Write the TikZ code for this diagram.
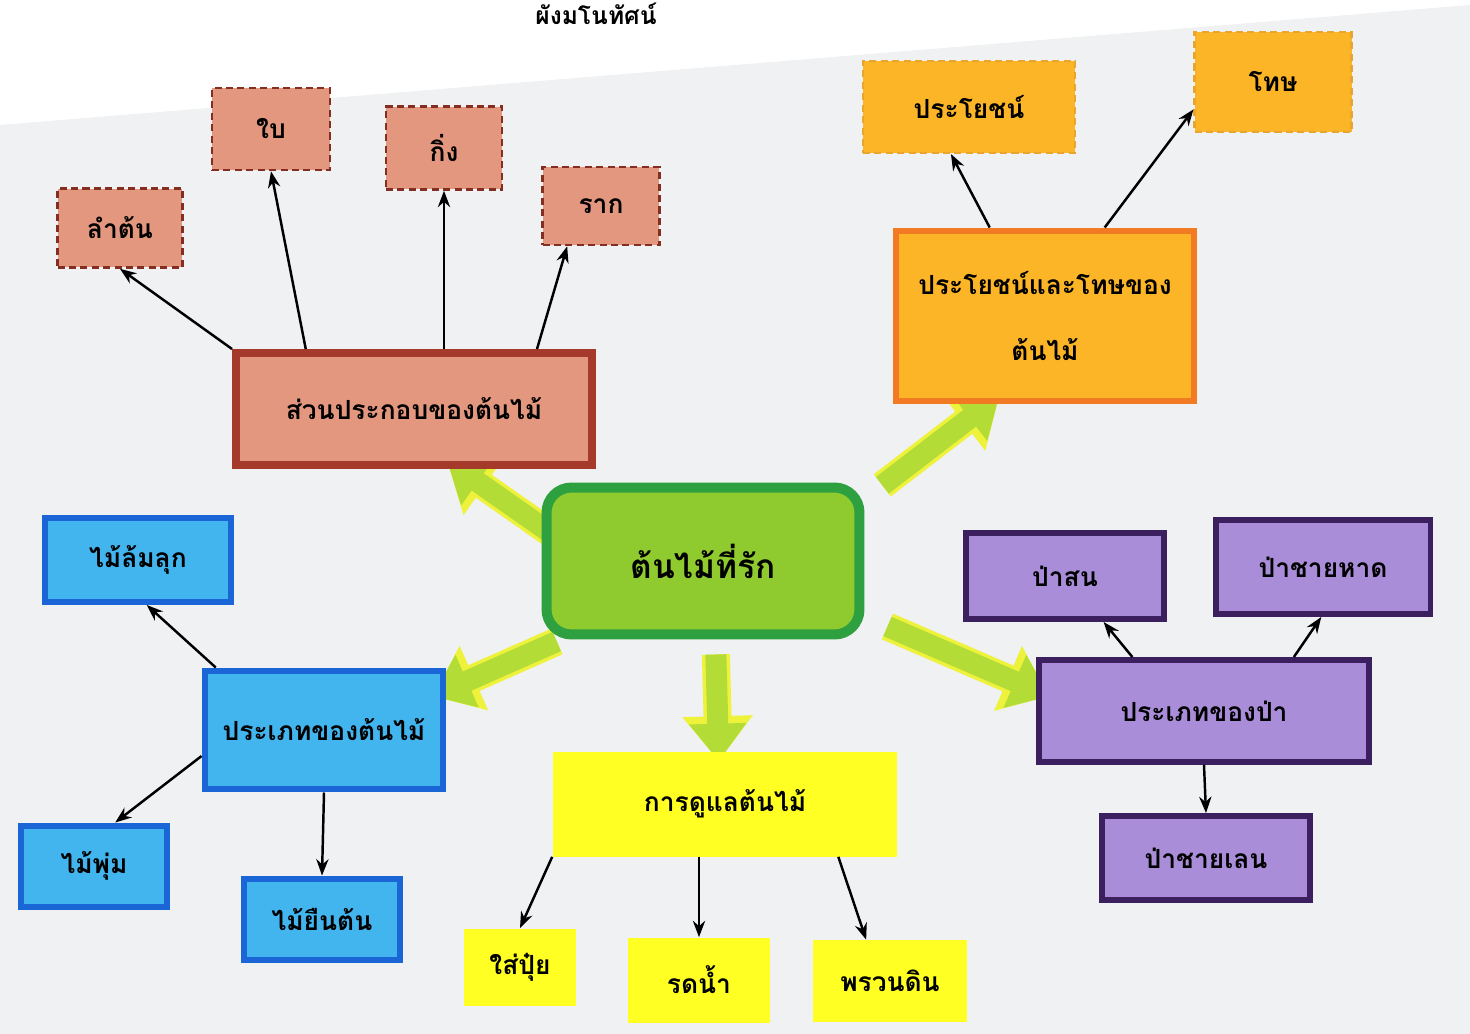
\documentclass[tikz,border=0pt]{standalone}
\usepackage{fontspec}
\newfontfamily\thaifont[Script=Thai]{Loma}
\usetikzlibrary{arrows.meta,positioning,backgrounds}

\definecolor{salmon}{HTML}{E3977F}
\definecolor{brick}{HTML}{A5392A}
\definecolor{amber}{HTML}{FBB526}
\definecolor{tangerine}{HTML}{F27A22}
\definecolor{lime}{HTML}{8FCB2E}
\definecolor{leafgreen}{HTML}{2EA03F}
\definecolor{sky}{HTML}{42B4EE}
\definecolor{royal}{HTML}{1A66D6}
\definecolor{lemon}{HTML}{FFFF24}
\definecolor{lilac}{HTML}{A98DD8}
\definecolor{plum}{HTML}{3B1F5E}
\definecolor{arrowlime}{HTML}{B4DC36}
\definecolor{arrowyellow}{HTML}{EEF23A}
\definecolor{paper}{HTML}{EFF1F2}

\begin{document}
\begin{tikzpicture}[
    x=0.02cm, y=-0.02cm,
    >=Stealth,
    every node/.style={font=\thaifont\bfseries\fontsize{15}{18}\selectfont, inner sep=0pt, align=center},
    partbox/.style={rectangle, draw=brick!80!black, dash pattern=on 4pt off 2.5pt, line width=1.5pt, fill=salmon},
    mainpart/.style={rectangle, draw=brick, line width=0.16cm, fill=salmon},
    usebox/.style={rectangle, draw=amber!70!brown, dash pattern=on 4pt off 2.5pt, line width=1.2pt, fill=amber},
    mainuse/.style={rectangle, draw=tangerine, line width=0.12cm, fill=amber},
    hubbox/.style={rectangle, rounded corners=0.5cm, draw=leafgreen, line width=0.2cm, fill=lime},
    bluebox/.style={rectangle, draw=royal, line width=0.12cm, fill=sky},
    carebox/.style={rectangle, fill=lemon},
    forestbox/.style={rectangle, draw=plum, line width=0.12cm, fill=lilac},
    link/.style={->, line width=1.4pt},
    bigarrow/.style={line width=0.42cm, arrowlime, -{Triangle[length=0.75cm,width=1.1cm]},
      preaction={draw=arrowyellow, line width=0.56cm, -{Triangle[length=0.9cm,width=1.35cm]}}}
  ]
    \useasboundingbox (0,0) rectangle (1470,1034);

    % title (top of the page)
    \node[font=\thaifont\bfseries\fontsize{14}{16}\selectfont] (title) at (596,14) {ผังมโนทัศน์};

    % centre
    \node[hubbox, minimum width=6.26cm, minimum height=2.94cm,
      font=\thaifont\bfseries\fontsize{19}{22}\selectfont] (hub) at (703,561) {ต้นไม้ที่รัก};

    % parts of a tree
    \node[mainpart, minimum width=7.12cm, minimum height=2.24cm] (parts) at (414,409) {ส่วนประกอบของต้นไม้};
    \node[partbox, minimum width=2.5cm, minimum height=1.58cm] (trunk) at (120,228) {ลำต้น};
    \node[partbox, minimum width=2.36cm, minimum height=1.64cm] (leaf) at (271,129) {ใบ};
    \node[partbox, minimum width=2.32cm, minimum height=1.66cm] (branch) at (444,148) {กิ่ง};
    \node[partbox, minimum width=2.34cm, minimum height=1.56cm] (root) at (601,206) {ราก};

    % good and bad
    \node[mainuse, minimum width=5.98cm, minimum height=3.42cm] (pros) at (1045,316) {ประโยชน์และโทษของ\\[20pt]ต้นไม้};
    \node[usebox, minimum width=4.24cm, minimum height=1.84cm] (good) at (969,107) {ประโยชน์};
    \node[usebox, minimum width=3.14cm, minimum height=2cm] (bad) at (1273,82) {โทษ};

    % kinds of trees
    \node[bluebox, minimum width=4.78cm, minimum height=2.38cm] (kinds) at (324,730) {ประเภทของต้นไม้};
    \node[bluebox, minimum width=3.74cm, minimum height=1.68cm] (herb) at (138,560) {ไม้ล้มลุก};
    \node[bluebox, minimum width=2.92cm, minimum height=1.62cm] (shrub) at (94,866) {ไม้พุ่ม};
    \node[bluebox, minimum width=3.12cm, minimum height=1.62cm] (tree) at (322,919) {ไม้ยืนต้น};

    % care
    \node[carebox, minimum width=6.9cm, minimum height=2.1cm] (care) at (725,804) {การดูแลต้นไม้};
    \node[carebox, minimum width=2.26cm, minimum height=1.54cm] (fert) at (520,967) {ใส่ปุ๋ย};
    \node[carebox, minimum width=2.84cm, minimum height=1.7cm] (water) at (699,980) {รดน้ำ};
    \node[carebox, minimum width=3.1cm, minimum height=1.64cm] (till) at (890,981) {พรวนดิน};

    % kinds of forest
    \node[forestbox, minimum width=6.62cm, minimum height=2.04cm] (forest) at (1204,711) {ประเภทของป่า};
    \node[forestbox, minimum width=3.98cm, minimum height=1.72cm] (pine) at (1065,576) {ป่าสน};
    \node[forestbox, minimum width=4.3cm, minimum height=1.88cm] (beach) at (1323,567) {ป่าชายหาด};
    \node[forestbox, minimum width=4.16cm, minimum height=1.68cm] (mangrove) at (1206,858) {ป่าชายเลน};

    % thin arrows
    \draw[link] (parts.north west) -- (trunk.south);
    \draw[link] (parts.151) -- (leaf.south);
    \draw[link] (parts.north -| branch.south) -- (branch.south);
    \draw[link] (parts.26) -- (root.230);
    \draw[link] (pros.122) -- (good.249);
    \draw[link] (pros.56) -- (bad.199);
    \draw[link] (kinds.150) -- (herb.-79);
    \draw[link] (kinds.192) -- (shrub.64);
    \draw[link] (kinds.south) -- (tree.north);
    \draw[link] (care.south west) -- (fert.north);
    \draw[link] (water.north |- care.south) -- (water.north);
    \draw[link] (care.-25) -- (till.120);
    \draw[link] (forest.143) -- (pine.-50);
    \draw[link] (forest.31) -- (beach.-92);
    \draw[link] (forest.south) -- (mangrove.north);

    % paper and big arrows behind the boxes
    \begin{pgfonlayer}{background}
      \fill[white] (0,0) rectangle (1470,1034);
      \fill[paper] (0,125) -- (1470,5) -- (1470,1034) -- (0,1034) -- cycle;
      \draw[bigarrow, shorten <=-0.2cm, shorten >=-0.3cm] (hub.168) -- (parts.-53);
      \draw[bigarrow, shorten <=0.45cm, shorten >=-0.3cm] (hub.21) -- (pros.-123);
      \draw[bigarrow, shorten <=0.1cm, shorten >=-0.3cm] (hub.209) -- (kinds.18);
      \draw[bigarrow, shorten <=0.3cm, shorten >=-0.2cm] (hub.-81) -- (care.97);
      \draw[bigarrow, shorten <=0.5cm, shorten >=-0.3cm] (hub.-19) -- (forest.173);
    \end{pgfonlayer}
  \end{tikzpicture}
\end{document}
